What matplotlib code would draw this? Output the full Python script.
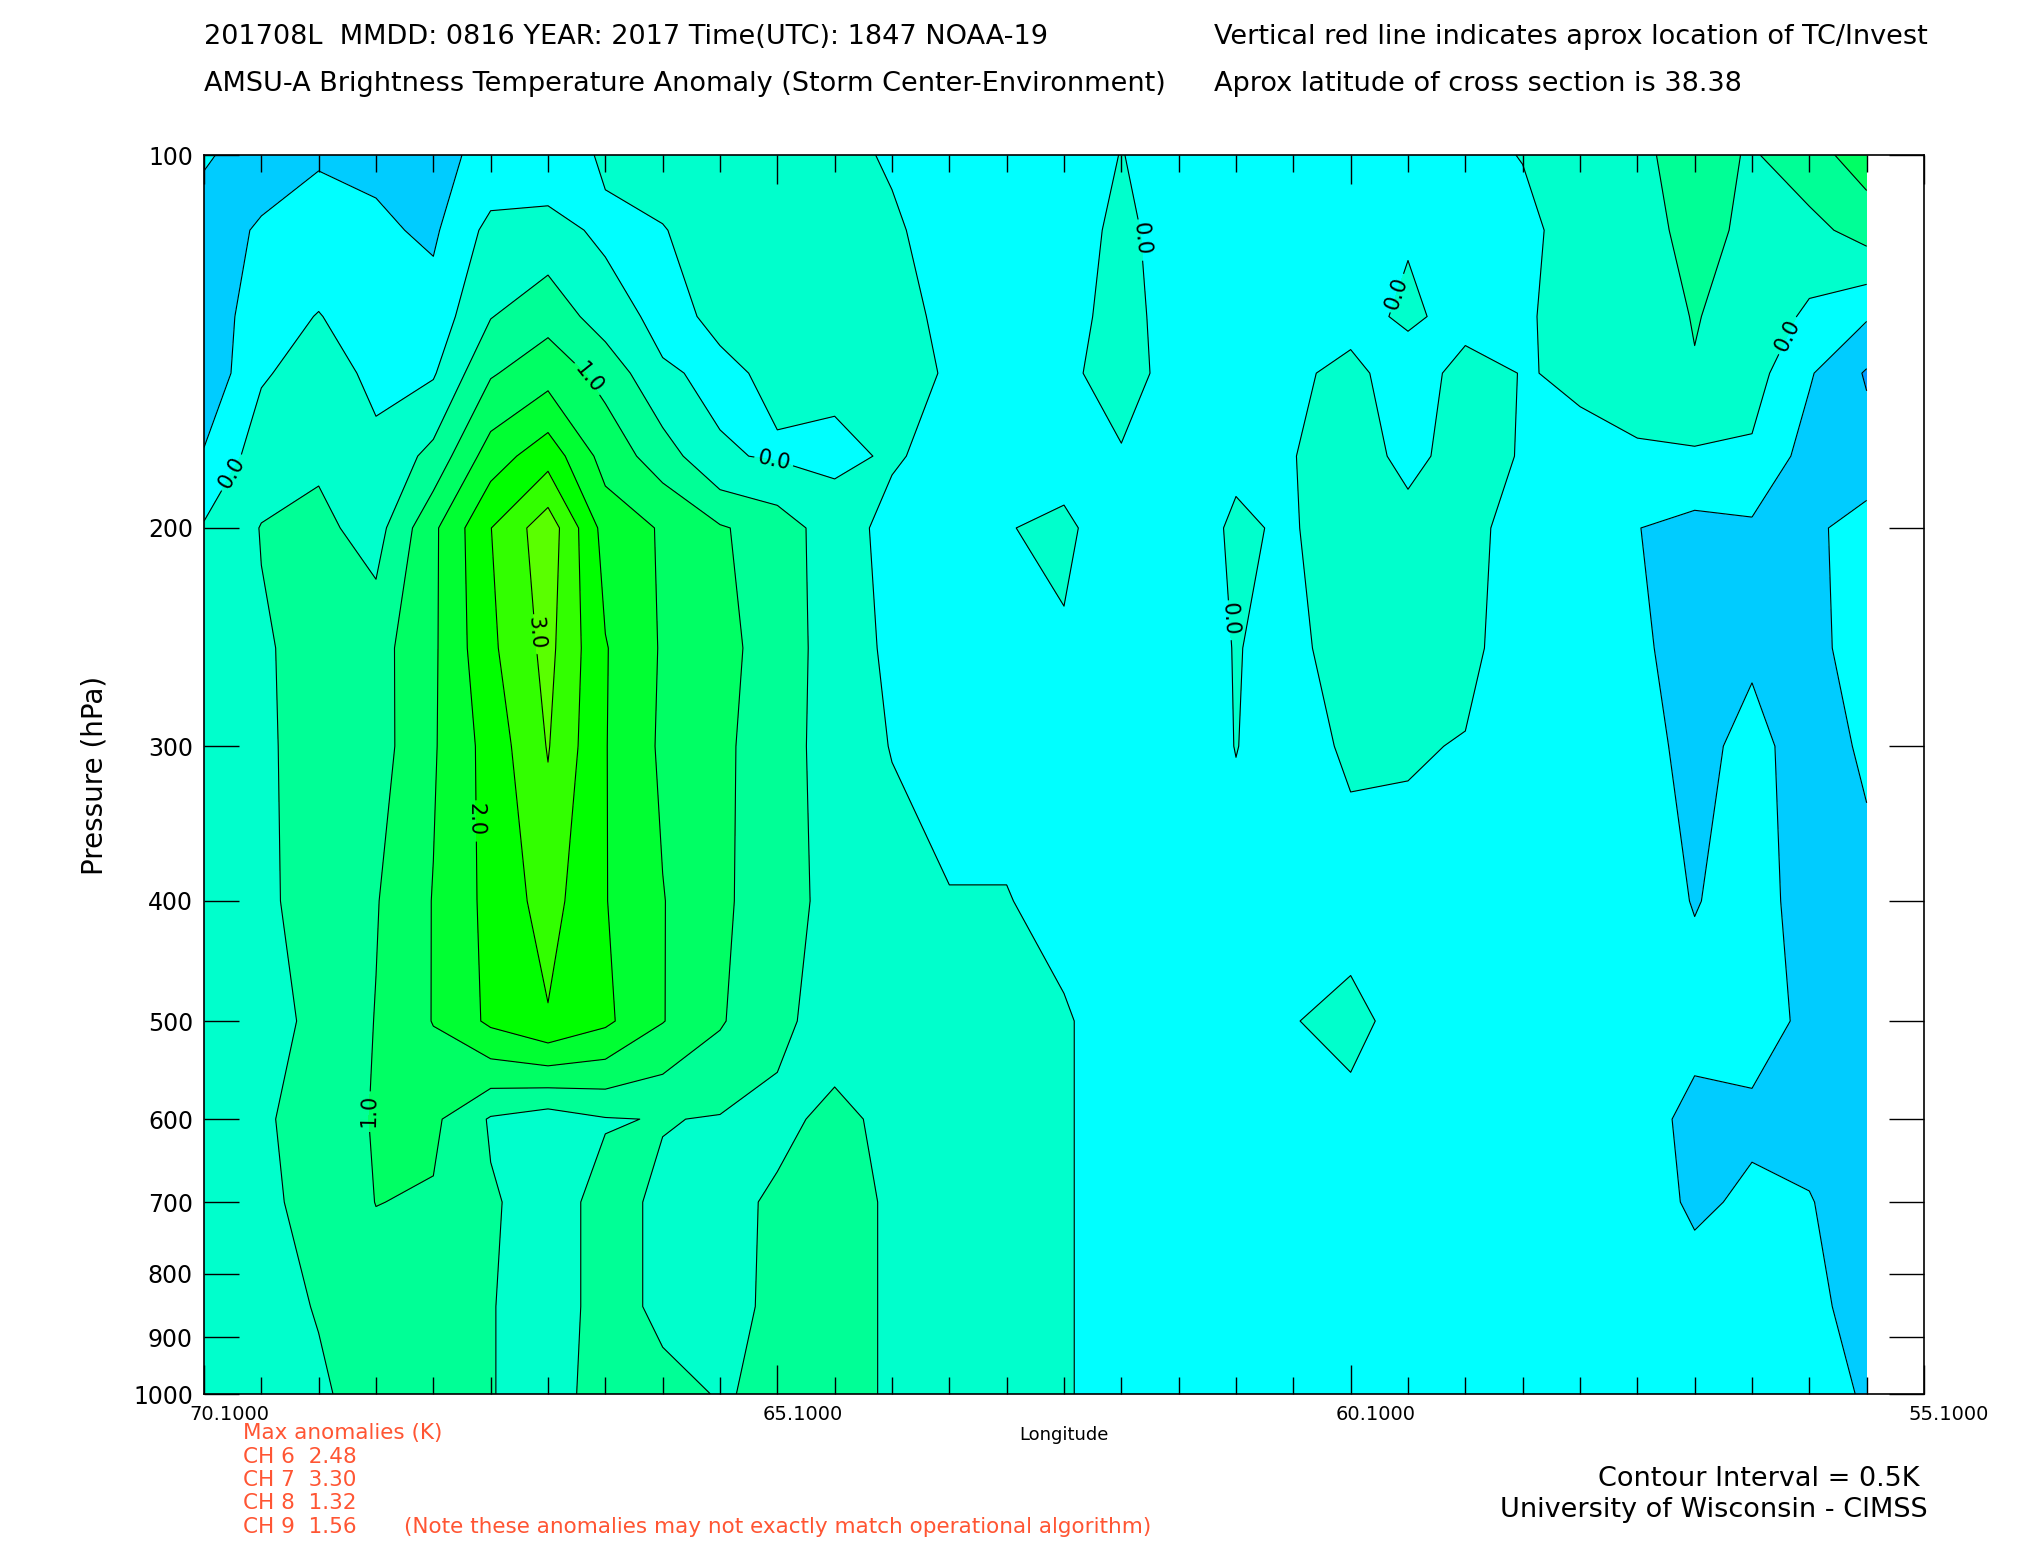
import numpy as np
import matplotlib
matplotlib.use("Agg")
import matplotlib.pyplot as plt
import matplotlib.transforms as mtransforms
from matplotlib.ticker import FixedLocator, NullLocator

plt.rcParams["font.family"] = "DejaVu Sans"

# longitude columns (0.5 deg spacing) and pressure levels of the cross section
lon = np.round(np.arange(70.1, 55.5, -0.5), 1)
pressure = [100, 115, 135, 150, 175, 200, 250, 300, 400, 500, 600, 700, 850, 1000]

# brightness temperature anomaly (K), one list per pressure level, west -> east
t100 = [-0.45, -0.70, -0.55, -0.60, -0.60, -0.40, -0.33, 0.08, 0.20, 0.25, 0.20, 0.10, -0.04, -0.20, -0.25,
        -0.20, 0.01, -0.15, -0.20, -0.25, -0.20, -0.30, -0.15, 0.02, 0.30, 0.40, 0.70, 0.45, 0.80, 1.25]
t115 = [-0.70, -0.45, -0.30, -0.42, -0.58, 0.15, 0.17, -0.10, -0.02, 0.20, 0.25, 0.20, 0.05, -0.15, -0.20,
        -0.20, 0.10, -0.20, -0.25, -0.25, -0.10, -0.05, -0.20, -0.15, 0.25, 0.35, 0.62, 0.42, 0.35, 0.70]
t135 = [-0.85, -0.20, 0.02, -0.25, -0.30, 0.48, 0.83, 0.24, -0.15, 0.10, 0.25, 0.30, 0.15, -0.10, -0.20,
        -0.20, 0.20, -0.25, -0.25, -0.20, -0.20, 0.10, -0.20, -0.05, 0.15, 0.30, 0.52, 0.35, -0.10, -0.45]
t150 = [-0.90, -0.05, 0.20, -0.10, -0.05, 0.95, 1.30, 0.84, 0.06, -0.10, 0.10, 0.10, 0.20, -0.05, -0.15,
        -0.15, 0.30, -0.30, -0.30, -0.10, 0.15, -0.30, 0.20, -0.02, 0.05, 0.20, 0.48, 0.20, -0.45, -1.05]
t175 = [-0.45, 0.25, 0.42, 0.10, 0.65, 1.75, 2.30, 1.30, 0.75, 0.05, -0.05, -0.10, 0.05, -0.15, -0.20,
        -0.30, -0.06, -0.30, -0.06, -0.02, 0.35, -0.20, 0.30, -0.05, -0.08, -0.06, -0.07, -0.08, -0.70, -0.80]
t200 = [0.05, 0.52, 0.62, 0.30, 1.40, 2.49, 3.30, 1.80, 1.45, 1.05, 0.77, 0.23, -0.15, -0.20, -0.03,
        0.15, -0.45, -0.18, 0.05, -0.05, 0.40, 0.25, 0.20, -0.25, -0.30, -0.49, -0.65, -0.58, -0.60, -0.30]
t250 = [0.25, 0.45, 0.65, 0.80, 1.42, 2.40, 3.15, 2.03, 1.45, 1.10, 0.85, 0.20, -0.07, -0.20, -0.20,
        -0.09, -0.30, -0.25, 0.02, -0.15, 0.30, 0.30, 0.15, -0.30, -0.35, -0.45, -0.62, -0.55, -0.60, -0.35]
t300 = [0.30, 0.45, 0.62, 0.78, 1.45, 2.20, 3.03, 2.02, 1.42, 1.05, 0.87, 0.14, -0.01, -0.15, -0.15,
        -0.20, -0.30, -0.25, 0.01, -0.20, 0.08, 0.05, -0.03, -0.30, -0.35, -0.38, -0.60, -0.40, -0.65, -0.45]
t400 = [0.35, 0.45, 0.60, 0.97, 1.52, 2.15, 2.70, 2.02, 1.52, 1.10, 0.70, 0.35, 0.10, 0.02, 0.02,
        -0.15, -0.30, -0.30, -0.15, -0.20, -0.22, -0.20, -0.20, -0.30, -0.30, -0.30, -0.52, -0.35, -0.65, -0.60]
t500 = [0.35, 0.42, 0.55, 1.02, 1.52, 2.10, 2.46, 2.10, 1.52, 1.05, 0.58, 0.35, 0.25, 0.20, 0.12,
        0.05, -0.23, -0.25, -0.25, -0.02, 0.15, -0.20, -0.25, -0.30, -0.30, -0.30, -0.35, -0.40, -0.55, -0.70]
t600 = [0.30, 0.45, 0.65, 1.05, 1.10, 0.45, 0.25, 0.47, 0.52, 0.47, 0.42, 0.58, 0.42, 0.28, 0.20,
        0.05, -0.23, -0.25, -0.25, -0.20, -0.15, -0.25, -0.25, -0.30, -0.30, -0.30, -0.63, -0.55, -0.62, -0.75]
t700 = [0.30, 0.42, 0.62, 1.01, 0.95, 0.55, 0.30, 0.65, 0.42, 0.40, 0.55, 0.65, 0.45, 0.30, 0.30,
        0.05, -0.23, -0.25, -0.25, -0.25, -0.25, -0.25, -0.25, -0.25, -0.30, -0.35, -0.55, -0.45, -0.48, -0.70]
t850 = [0.25, 0.38, 0.52, 0.75, 0.60, 0.52, 0.30, 0.65, 0.42, 0.42, 0.55, 0.65, 0.45, 0.30, 0.30,
        0.05, -0.23, -0.25, -0.25, -0.25, -0.25, -0.25, -0.25, -0.25, -0.30, -0.30, -0.35, -0.35, -0.40, -0.65]
t1000 = [0.25, 0.35, 0.45, 0.65, 0.60, 0.52, 0.30, 0.70, 0.60, 0.48, 0.55, 0.65, 0.45, 0.30, 0.30,
         0.05, -0.23, -0.25, -0.25, -0.25, -0.25, -0.25, -0.25, -0.25, -0.30, -0.30, -0.30, -0.35, -0.30, -0.55]

anom = np.array([t100, t115, t135, t150, t175, t200, t250, t300,
                 t400, t500, t600, t700, t850, t1000])

fill_levels = [-1.5, -1.0, -0.5, 0.0, 0.5, 1.0, 1.5, 2.0, 2.5, 3.0, 3.5]
fill_colors = ["#0099FF", "#00CCFF", "#00FFFF", "#00FFCC", "#00FF96",
               "#00FF64", "#00FF32", "#00FF00", "#32FF00", "#5AFF00"]
plain_levels = [-1.0, -0.5, 0.5, 1.5, 2.5]
label_levels = [0.0, 1.0, 2.0, 3.0]

# where the labelled contours carry their numbers
label_pos = [(69.96, 178), (66.78, 152), (65.12, 174), (67.17, 243), (67.69, 344),
             (68.75, 590), (61.97, 117), (59.62, 130), (61.13, 237), (56.28, 140)]

ytick_vals = [100, 200, 300, 400, 500, 600, 700, 800, 900, 1000]
xmajor = [70.1, 65.1, 60.1, 55.1]
xminor = [v for v in np.round(np.arange(69.6, 55.5, -0.5), 1) if v not in xmajor]

fig = plt.figure(figsize=(20.25, 15.5), dpi=100)
ax = fig.add_axes([204 / 2025, 1 - 1394 / 1550, 1720 / 2025, 1239 / 1550])
ax.set_yscale("log")

ax.contourf(lon, pressure, anom, levels=fill_levels, colors=fill_colors)
ax.contour(lon, pressure, anom, levels=plain_levels, colors="black",
           linewidths=0.8, negative_linestyles="solid")
cs = ax.contour(lon, pressure, anom, levels=label_levels, colors="black",
                linewidths=0.8, negative_linestyles="solid")
ax.clabel(cs, fmt="%.1f", manual=label_pos, inline=True, inline_spacing=4, fontsize=15)

ax.set_xlim(70.1, 55.1)
ax.set_ylim(1000, 100)

# y axis: long inward ticks on both sides
ax.yaxis.set_major_locator(FixedLocator(ytick_vals))
ax.yaxis.set_minor_locator(NullLocator())
ax.set_yticklabels([str(v) for v in ytick_vals])
ax.tick_params(axis="y", which="major", direction="in", length=25, width=1,
               left=True, right=True, labelsize=17, pad=8)

# x axis: ticks at every column, labels shifted right like the original
ax.xaxis.set_major_locator(FixedLocator(xmajor))
ax.xaxis.set_minor_locator(FixedLocator(xminor))
ax.set_xticklabels(["%.4f" % v for v in xmajor])
ax.tick_params(axis="x", which="major", direction="in", length=21, width=1,
               top=True, bottom=True, labelsize=14, pad=8)
ax.tick_params(axis="x", which="minor", direction="in", length=12, width=1,
               top=True, bottom=True)
shift = mtransforms.ScaledTranslation(0.25, 0, fig.dpi_scale_trans)
for lab in ax.get_xticklabels():
    lab.set_transform(lab.get_transform() + shift)

for sp in ax.spines.values():
    sp.set_linewidth(1.2)
    sp.set_color("black")


def ftext(x, y, s, **kw):
    fig.text(x / 2025, 1 - y / 1550, s, **kw)


ftext(204, 37, "201708L  MMDD: 0816 YEAR: 2017 Time(UTC): 1847 NOAA-19",
      fontsize=19.5, va="center", ha="left")
ftext(1214, 37, "Vertical red line indicates aprox location of TC/Invest",
      fontsize=19.5, va="center", ha="left")
ftext(204, 84, "AMSU-A Brightness Temperature Anomaly (Storm Center-Environment)",
      fontsize=19.5, va="center", ha="left")
ftext(1214, 84, "Aprox latitude of cross section is 38.38",
      fontsize=19.5, va="center", ha="left")

ftext(94, 775, "Pressure (hPa)", fontsize=20, rotation=90, va="center", ha="center")
ftext(1064, 1435, "Longitude", fontsize=13, va="center", ha="center")

red = "#FF5533"
ftext(243, 1433, "Max anomalies (K)", fontsize=15.5, color=red, va="center")
ftext(243, 1457, "CH 6  2.48", fontsize=15.5, color=red, va="center")
ftext(243, 1480, "CH 7  3.30", fontsize=15.5, color=red, va="center")
ftext(243, 1503, "CH 8  1.32", fontsize=15.5, color=red, va="center")
ftext(243, 1527, "CH 9  1.56", fontsize=15.5, color=red, va="center")
ftext(404, 1527, "(Note these anomalies may not exactly match operational algorithm)",
      fontsize=15.5, color=red, va="center")

ftext(1919, 1479, "Contour Interval = 0.5K", fontsize=19.5, va="center", ha="right")
ftext(1928, 1510, "University of Wisconsin - CIMSS", fontsize=19.5, va="center", ha="right")

fig.savefig("out.png", dpi=100, facecolor="white")
